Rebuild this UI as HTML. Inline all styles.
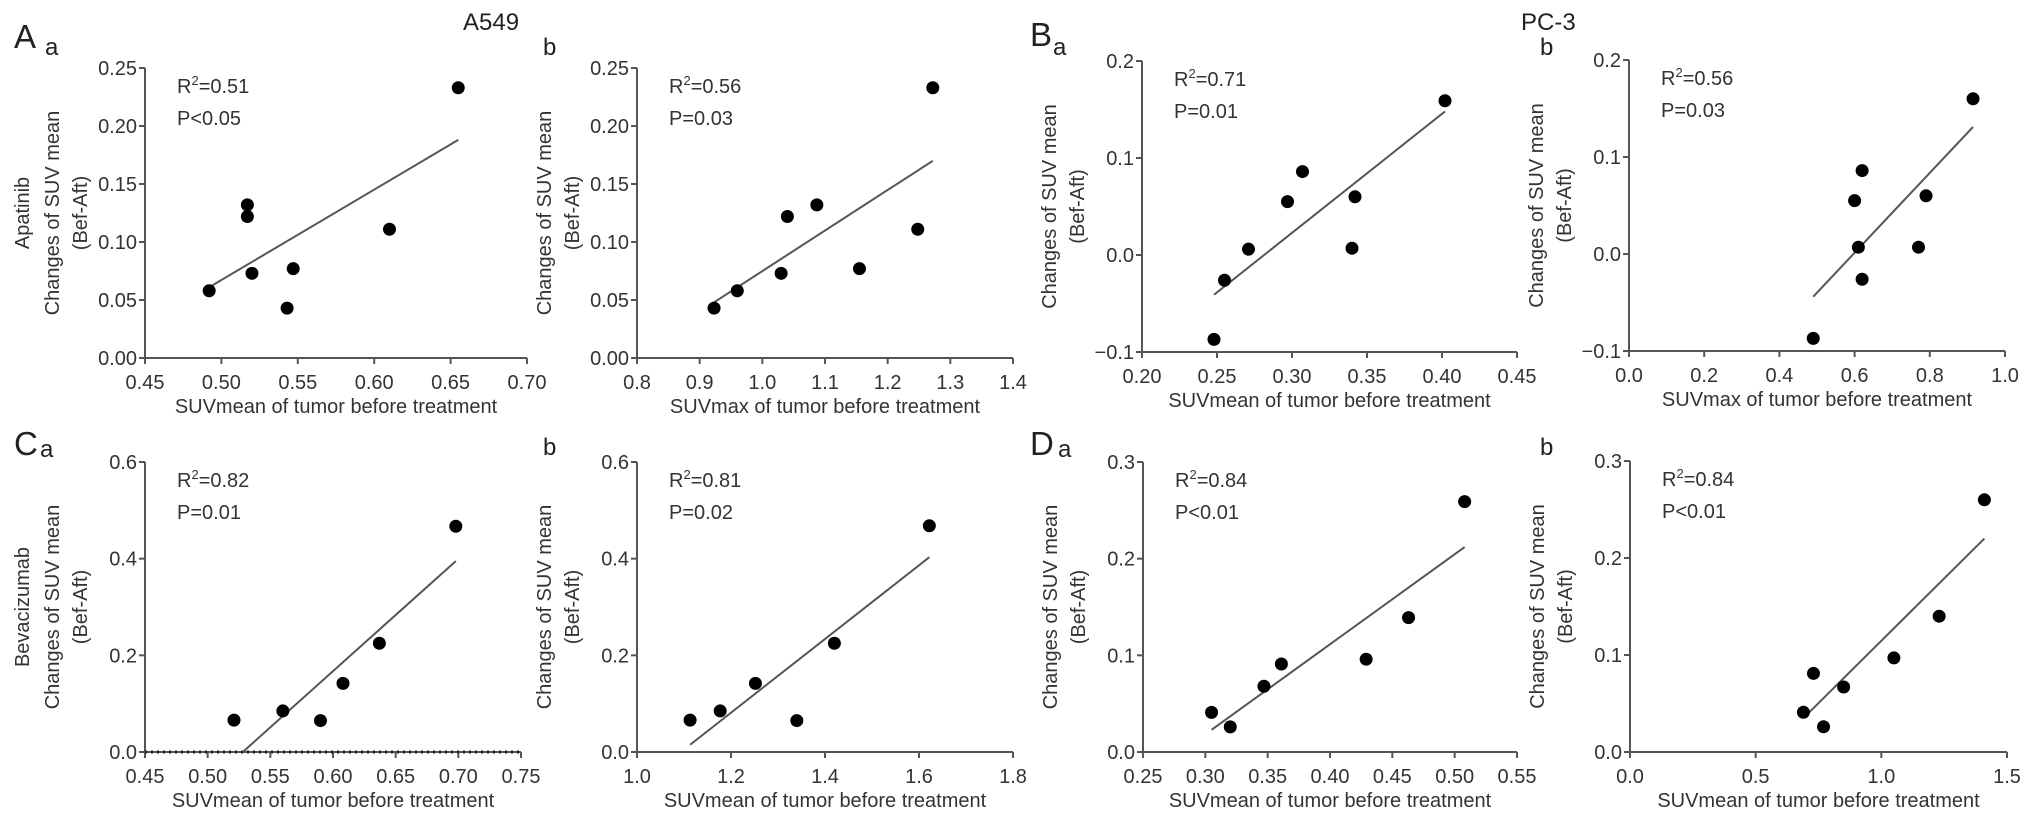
<!DOCTYPE html>
<html><head><meta charset="utf-8">
<style>
html,body{margin:0;padding:0;background:#fff;}
svg{display:block;font-family:"Liberation Sans",Arial,sans-serif;}
</style></head>
<body>
<svg id="fig" width="2032" height="826" viewBox="0 0 2032 826" xmlns="http://www.w3.org/2000/svg">
<g fill="#222">
<text x="14" y="48" font-size="33">A</text>
<text x="45" y="55" font-size="24">a</text>
<text x="463" y="30" font-size="24">A549</text>
<text x="543" y="55" font-size="24">b</text>
<text x="1030" y="46" font-size="33">B</text>
<text x="1053" y="55" font-size="24">a</text>
<text x="1521" y="30" font-size="24">PC-3</text>
<text x="1540" y="55" font-size="24">b</text>
<text x="14" y="455" font-size="33">C</text>
<text x="40" y="457" font-size="24">a</text>
<text x="543" y="455" font-size="24">b</text>
<text x="1030" y="455" font-size="33">D</text>
<text x="1058" y="457" font-size="24">a</text>
<text x="1540" y="455" font-size="24">b</text>
</g>
</svg>
<script>
// ---- data ----
const aaX=[0.492,0.517,0.517,0.520,0.543,0.547,0.610,0.655];
const aaY=[0.058,0.132,0.122,0.073,0.043,0.077,0.111,0.233];
const aaFitX=[0.492,0.655]; const aaFitY=[0.061,0.188];
const abX=[0.923,0.960,1.030,1.040,1.087,1.155,1.248,1.272];
const abY=[0.043,0.058,0.073,0.122,0.132,0.077,0.111,0.233];
const abFitX=[0.923,1.272]; const abFitY=[0.048,0.170];
const baX=[0.248,0.255,0.271,0.297,0.307,0.340,0.342,0.402];
const baY=[-0.087,-0.026,0.006,0.055,0.086,0.007,0.060,0.159];
const baFitX=[0.248,0.402]; const baFitY=[-0.041,0.148];
const bbX=[0.49,0.61,0.62,0.60,0.62,0.77,0.79,0.915];
const bbY=[-0.087,0.007,-0.026,0.055,0.086,0.007,0.060,0.160];
const bbFitX=[0.49,0.915]; const bbFitY=[-0.044,0.131];
const caX=[0.521,0.560,0.590,0.608,0.637,0.698];
const caY=[0.066,0.085,0.065,0.142,0.225,0.467];
const caFitX=[0.528,0.698]; const caFitY=[0.0,0.395];
const cbX=[1.113,1.177,1.252,1.340,1.420,1.622];
const cbY=[0.066,0.085,0.142,0.065,0.225,0.468];
const cbFitX=[1.113,1.622]; const cbFitY=[0.015,0.403];
const daX=[0.305,0.320,0.347,0.361,0.429,0.463,0.508];
const daY=[0.041,0.026,0.068,0.091,0.096,0.139,0.259];
const daFitX=[0.305,0.508]; const daFitY=[0.023,0.212];
const dbX=[0.69,0.73,0.77,0.85,1.05,1.23,1.41];
const dbY=[0.041,0.081,0.026,0.067,0.097,0.140,0.260];
const dbFitX=[0.69,1.41]; const dbFitY=[0.035,0.220];
// tick labels
const aaXTicks=["0.45","0.50","0.55","0.60","0.65","0.70"];
const aaYTicks=["0.00","0.05","0.10","0.15","0.20","0.25"];
const abXTicks=["0.8","0.9","1.0","1.1","1.2","1.3","1.4"];
const abYTicks=["0.00","0.05","0.10","0.15","0.20","0.25"];
const baXTicks=["0.20","0.25","0.30","0.35","0.40","0.45"];
const baYTicks=["\u22120.1","0.0","0.1","0.2"];
const bbXTicks=["0.0","0.2","0.4","0.6","0.8","1.0"];
const bbYTicks=["\u22120.1","0.0","0.1","0.2"];
const caXTicks=["0.45","0.50","0.55","0.60","0.65","0.70","0.75"];
const caYTicks=["0.0","0.2","0.4","0.6"];
const cbXTicks=["1.0","1.2","1.4","1.6","1.8"];
const cbYTicks=["0.0","0.2","0.4","0.6"];
const daXTicks=["0.25","0.30","0.35","0.40","0.45","0.50","0.55"];
const daYTicks=["0.0","0.1","0.2","0.3"];
const dbXTicks=["0.0","0.5","1.0","1.5"];
const dbYTicks=["0.0","0.1","0.2","0.3"];
const stats=[["0.51","P<0.05"],["0.56","P=0.03"],["0.71","P=0.01"],["0.56","P=0.03"],["0.82","P=0.01"],["0.81","P=0.02"],["0.84","P<0.01"],["0.84","P<0.01"]];

const NS="http://www.w3.org/2000/svg";
const svg=document.getElementById('fig');
const FS=20;
function mk(tag,attrs,parent){const e=document.createElementNS(NS,tag);for(const k in attrs)e.setAttribute(k,attrs[k]);parent.appendChild(e);return e;}

const panels=[
 {id:'aa',L:145,R:527,T:68,B:358,xs:aaX,ys:aaY,fx:aaFitX,fy:aaFitY,xt:aaXTicks,yt:aaYTicks,xlab:'SUVmean of tumor before treatment',drug:'Apatinib',st:stats[0]},
 {id:'ab',L:637,R:1013,T:68,B:358,xs:abX,ys:abY,fx:abFitX,fy:abFitY,xt:abXTicks,yt:abYTicks,xlab:'SUVmax of tumor before treatment',st:stats[1]},
 {id:'ba',L:1142,R:1517,T:61,B:352,xs:baX,ys:baY,fx:baFitX,fy:baFitY,xt:baXTicks,yt:baYTicks,xlab:'SUVmean of tumor before treatment',st:stats[2]},
 {id:'bb',L:1629,R:2005,T:60,B:351,xs:bbX,ys:bbY,fx:bbFitX,fy:bbFitY,xt:bbXTicks,yt:bbYTicks,xlab:'SUVmax of tumor before treatment',st:stats[3]},
 {id:'ca',L:145,R:521,T:462,B:752,xs:caX,ys:caY,fx:caFitX,fy:caFitY,xt:caXTicks,yt:caYTicks,xlab:'SUVmean of tumor before treatment',drug:'Bevacizumab',dotted:true,st:stats[4]},
 {id:'cb',L:637,R:1013,T:462,B:752,xs:cbX,ys:cbY,fx:cbFitX,fy:cbFitY,xt:cbXTicks,yt:cbYTicks,xlab:'SUVmean of tumor before treatment',st:stats[5]},
 {id:'da',L:1143,R:1517,T:462,B:752,xs:daX,ys:daY,fx:daFitX,fy:daFitY,xt:daXTicks,yt:daYTicks,xlab:'SUVmean of tumor before treatment',st:stats[6]},
 {id:'db',L:1630,R:2007,T:461,B:752,xs:dbX,ys:dbY,fx:dbFitX,fy:dbFitY,xt:dbXTicks,yt:dbYTicks,xlab:'SUVmean of tumor before treatment',st:stats[7]}
];

panels.forEach(p=>{
 const g=mk('g',{},svg);
 
 
 const xv=p.xt.map(s=>parseFloat(s.replace('\u2212','-')));
 const yv=p.yt.map(s=>parseFloat(s.replace('\u2212','-')));
 const x0=xv[0],x1=xv[xv.length-1],y0=yv[0],y1=yv[yv.length-1];
 const sx=v=>p.L+(v-x0)/(x1-x0)*(p.R-p.L);
 const sy=v=>p.B-(v-y0)/(y1-y0)*(p.B-p.T);
 const ax=mk('g',{stroke:'#555','stroke-width':2,fill:'none'},g);
 
 
 mk('line',{x1:p.L,y1:p.B,x2:p.R,y2:p.B},ax);
 mk('line',{x1:p.L,y1:p.B,x2:p.L,y2:p.T},ax);
 xv.forEach((v,i)=>{
  mk('line',{x1:sx(v),y1:p.B,x2:sx(v),y2:p.B+6},ax);
  const t=mk('text',{x:sx(v),y:p.B+31,'text-anchor':'middle','font-size':FS,fill:'#333'},g);
  
  
  t.textContent=p.xt[i];
 });
 yv.forEach((v,i)=>{
  mk('line',{x1:p.L-6,y1:sy(v),x2:p.L,y2:sy(v)},ax);
  const t=mk('text',{x:p.L-8,y:sy(v)+7,'text-anchor':'end','font-size':FS,fill:'#333'},g);
  
  
  t.textContent=p.yt[i];
 });
 if(p.dotted){
  const d=mk('line',{x1:p.L,y1:sy(0),x2:p.R,y2:sy(0),stroke:'#222','stroke-width':3,'stroke-dasharray':'2,4'},g);
  
  
 }
 const xt=mk('text',{x:(p.L+p.R)/2,y:p.B+55,'text-anchor':'middle','font-size':FS,fill:'#333'},g);
 
 
 xt.textContent=p.xlab;
 const cy=(p.T+p.B)/2;
 const y1t=mk('text',{x:0,y:0,'text-anchor':'middle','font-size':FS,fill:'#333',transform:`translate(${p.L-86},${cy}) rotate(-90)`},g);
 
 
 y1t.textContent='Changes of SUV mean';
 const y2t=mk('text',{x:0,y:0,'text-anchor':'middle','font-size':FS,fill:'#333',transform:`translate(${p.L-58},${cy}) rotate(-90)`},g);
 
 
 y2t.textContent='(Bef-Aft)';
 if(p.drug){
  const dt=mk('text',{x:0,y:0,'text-anchor':'middle','font-size':FS,fill:'#333',transform:`translate(${p.L-116},${cy}) rotate(-90)`},g);
  
  
  dt.textContent=p.drug;
 }
 const r=mk('text',{x:p.L+32,y:p.T+25,'font-size':FS,fill:'#333'},g);
 
 
 r.innerHTML='R<tspan dy="-8" font-size="13">2</tspan><tspan dy="8">='+p.st[0]+'</tspan>';
 const pv=mk('text',{x:p.L+32,y:p.T+57,'font-size':FS,fill:'#333'},g);
 
 
 pv.textContent=p.st[1];
 const fit=mk('line',{x1:sx(p.fx[0]),y1:sy(p.fy[0]),x2:sx(p.fx[1]),y2:sy(p.fy[1]),stroke:'#555','stroke-width':2},g);
 
 
 p.xs.forEach((v,i)=>{
  const c=mk('circle',{cx:sx(v),cy:sy(p.ys[i]),r:6.5,fill:'#000'},g);
  
  
 });
});
</script>
</body></html>
